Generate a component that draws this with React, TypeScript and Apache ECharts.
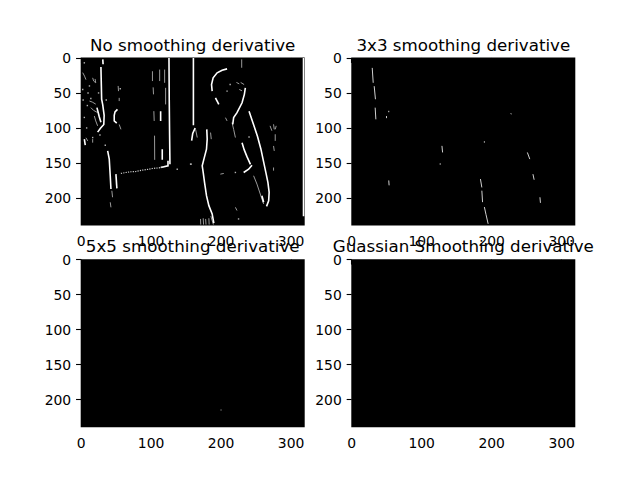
import React, { useEffect, useRef } from 'react';
import * as echarts from 'echarts';

type Pt = [number, number];

const panelTitles = [
  'No smoothing derivative',
  '3x3 smoothing derivative',
  '5x5 smoothing derivative',
  'Guassian Smoothing derivative',
];
const xTicks = [0, 100, 200, 300];
const yTicks = [0, 50, 100, 150, 200];

// panel 1: bright edges (image pixel coords, y down)
const noSmoothStrong: Pt[][] = [
  [[28.4, 13], [29, 40], [29.4, 59], [31, 67], [33, 82], [32.5, 95], [28, 100], [23.7, 106]],
  [[22.7, 71], [24.5, 78], [26, 84], [28.4, 92]],
  [[31, 2], [31.5, 9]],
  [[52, 73.5], [48.5, 77], [47.4, 82], [47.4, 90], [51, 93]],
  [[125.6, 0], [126, 60], [126.5, 110], [127, 152]],
  [[113.7, 76], [113.7, 90]],
  [[116, 130.4], [116, 145.6]],
  [[113.7, 156.5], [124.2, 154.1], [124.2, 147]],
  [[160.5, 0], [160.5, 96]],
  [[163, 100], [159.5, 108], [158, 118]],
  [[187.3, 47.4], [186.4, 37.9], [188.7, 28.4], [194.4, 21.3], [201.5, 17.5], [208.6, 15.6]],
  [[192, 56.9], [196.8, 66.4]],
  [[234.7, 42.7], [233.3, 52], [230, 64], [222.8, 78.2], [218, 85.3], [216.7, 94.8]],
  [[240, 76], [243, 85], [247, 97], [252, 112], [256.9, 130], [260.5, 147], [264, 163.5], [267, 178], [268.7, 192], [268, 204], [265, 212]],
  [[179.6, 102], [180.2, 116], [179.2, 130.4], [175.5, 144.6], [173.1, 154.1], [174.5, 163.6], [176.4, 177.8], [179.2, 196.8], [182.6, 211], [187.3, 222.8], [189.7, 236]],
  [[230, 121], [233, 131], [237, 141], [242, 152]],
  [[232.3, 163.6], [239.4, 158.9], [244.2, 153.2]],
  [[258.4, 196.8], [260.8, 206.2]],
  [[38, 132.8], [40.3, 144.6], [41.7, 168.3], [42.7, 187.3]],
  [[49.8, 166], [51.2, 186.3]],
  [[4.7, 116], [6, 124.7]],
  [[317.8, 0], [317.8, 226]],
];

// panel 1: faint / broken edges
const noSmoothWeak: Pt[][] = [
  [[102, 19], [102, 33]],
  [[103, 42], [103.5, 52]],
  [[104, 76], [104.5, 90]],
  [[105, 111], [105.2, 145.6]],
  [[112.3, 16.6], [112.3, 33]],
  [[119.4, 16.6], [119.4, 35.5]],
  [[120.8, 42.7], [120.8, 66.4]],
  [[53, 40], [53.5, 47.4]],
  [[54.5, 57], [54.5, 61.6]],
  [[54.5, 95], [57, 102]],
  [[2.4, 21], [5, 26], [7, 31]],
  [[16.6, 28.4], [18, 33], [21, 35.5], [20, 30]],
  [[12, 61.6], [16, 63], [21, 66]],
  [[14, 71], [18, 75], [23.7, 78]],
  [[19, 83], [21, 90], [23.7, 97]],
  [[7, 114], [9.5, 118.5]],
  [[16.6, 116], [16.6, 121]],
  [[44, 189.7], [45, 199]],
  [[41.7, 206.2], [42.7, 213.4]],
  [[229.5, 2], [229.5, 14]],
  [[163.6, 102], [166, 113.7]],
  [[185, 106.6], [186, 116]],
  [[215.7, 92.4], [218, 102], [220.5, 113.7]],
  [[206.3, 85.3], [208.6, 90]],
  [[270, 97], [272.6, 104]],
  [[275, 94.8], [276, 102]],
  [[278.8, 97], [277.4, 102]],
  [[277.4, 109], [277.4, 118.5]],
  [[275, 125.7], [276, 132.8]],
  [[275, 156.5], [275, 161]],
  [[199, 166], [203.9, 165]],
  [[220.5, 213.4], [222.8, 218]],
  [[246.5, 168.3], [251.3, 180.2], [256, 194.4], [260.8, 208.6]],
  [[170.7, 230], [171, 238]],
  [[174.5, 229], [175, 238]],
  [[178, 230], [178.5, 238]],
  [[182.6, 229], [183, 238]],
  [[185.5, 226], [189, 238]],
  [[222, 35], [226, 37]],
  [[228, 35], [233, 38]],
  [[226, 45], [230, 47]],
];

// panel 1: the dotted horizontal edge (window sill)
const noSmoothDotted: Pt[] = [
  [56.9, 165], [64, 163.6], [71, 162.6], [78.2, 162.2], [87.7, 160.3],
  [94.8, 159.3], [101.9, 157.9], [111.4, 157], [118.5, 155.5],
];

const noSmoothDots: Pt[] = [
  [4.7, 7], [2.4, 45], [4.7, 85], [16.6, 113.7], [34.6, 124.7], [137.4, 158.9],
  [157.3, 151.7], [208.6, 47.4], [213, 38], [220.5, 163.6], [225, 230],
  [156.5, 151.7], [240, 113], [10, 50], [12, 40], [25, 50], [8, 100], [36, 60],
  [14, 58], [9, 68], [27, 110], [56, 44], [3, 60],
];

// panel 2: 3x3 smoothing
const box3Weak: Pt[][] = [
  [[29.4, 14.2], [30.8, 35.5]],
  [[32.2, 40.3], [34, 59]],
  [[33.6, 71], [34.6, 87.7]],
  [[49.8, 83], [49.8, 86]],
  [[53, 75.5], [53, 77.5]],
  [[53, 175], [53.5, 182]],
  [[129, 125.6], [129.9, 135]],
  [[126.5, 150.5], [126.5, 152.5]],
  [[189.6, 119], [189.6, 121]],
  [[227.5, 79], [228, 80.5]],
  [[184, 173], [186, 185]],
  [[186, 189.6], [187, 206]],
  [[189.6, 213], [192, 224], [195, 237]],
  [[251, 135], [254.5, 144.5]],
  [[259, 166], [260.7, 174]],
  [[269, 199], [269.7, 207]],
];

// panel 3: 5x5 smoothing
const box5Dots: Pt[] = [[200, 215]];

// panel 4: gaussian smoothing (nothing survives the threshold)
const gaussDots: Pt[] = [];

const FONT = 'DejaVu Sans';
const gridLefts = [80.7, 351.3, 80.7, 351.3];
const gridTops = [57.6, 57.6, 259.2, 259.2];
const GW = 224;
const GH = 168;

function strokes(idx: number, polys: Pt[][], color: string, width: number, type: string = 'solid') {
  return {
    type: 'lines',
    coordinateSystem: 'cartesian2d',
    xAxisIndex: idx,
    yAxisIndex: idx,
    polyline: true,
    silent: true,
    data: polys.map((p) => ({ coords: p })),
    lineStyle: { color, width, opacity: 1, type },
  };
}

function dots(idx: number, pts: Pt[], color: string, size: number) {
  return {
    type: 'scatter',
    xAxisIndex: idx,
    yAxisIndex: idx,
    silent: true,
    symbol: 'rect',
    symbolSize: size,
    data: pts,
    itemStyle: { color },
  };
}

const App: React.FC = () => {
  const chartRef = useRef<HTMLDivElement>(null);

  useEffect(() => {
    if (!chartRef.current) return;
    const chart = echarts.init(chartRef.current, undefined, { renderer: 'svg' });

    const grid = gridLefts.map((l, i) => ({
      left: l,
      top: gridTops[i],
      width: GW,
      height: GH,
      show: true,
      backgroundColor: '#000',
      borderWidth: 0,
    }));

    const label = { color: '#000', fontSize: 13.9, fontFamily: FONT };
    const tick = { show: true, length: 5, lineStyle: { color: '#000', width: 1.1 } };

    const xAxis = grid.map((_, i) => ({
      type: 'value',
      gridIndex: i,
      min: -0.5,
      max: 319.5,
      axisLine: { show: false },
      splitLine: { show: false },
      axisTick: { ...tick, customValues: xTicks },
      axisLabel: { ...label, margin: 8.5, customValues: xTicks },
    }));

    const yAxis = grid.map((_, i) => ({
      type: 'value',
      gridIndex: i,
      inverse: true,
      min: -0.5,
      max: 239.5,
      axisLine: { show: false },
      splitLine: { show: false },
      axisTick: { ...tick, customValues: yTicks },
      axisLabel: { ...label, margin: 9.5, customValues: yTicks },
    }));

    const series: any[] = [
      strokes(0, noSmoothWeak, '#9a9a9a', 1),
      strokes(0, noSmoothStrong, '#ffffff', 1.6),
      strokes(0, [noSmoothDotted], '#cfcfcf', 1.2, 'dotted'),
      dots(0, noSmoothDots, '#dddddd', 1.4),
      strokes(1, box3Weak, '#d0d0d0', 1),
      dots(2, box5Dots, '#6a6a6a', 1.4),
      dots(3, gaussDots, '#ffffff', 1.4),
    ];

    const graphic = panelTitles.map((t, i) => ({
      type: 'text',
      x: gridLefts[i] + GW / 2,
      y: gridTops[i] - 4.6,
      z: 100,
      style: {
        text: t,
        fill: '#000',
        font: `16.7px "${FONT}"`,
        textAlign: 'center',
        textVerticalAlign: 'bottom',
      },
    }));

    chart.setOption({
      animation: false,
      backgroundColor: '#fff',
      grid,
      xAxis,
      yAxis,
      series,
      graphic,
    } as any);

    return () => {
      chart.dispose();
    };
  }, []);

  return (
    <div
      ref={chartRef}
      style={{ position: 'absolute', left: 0, top: 0, width: '640px', height: '480px' }}
    />
  );
};

export default App;
